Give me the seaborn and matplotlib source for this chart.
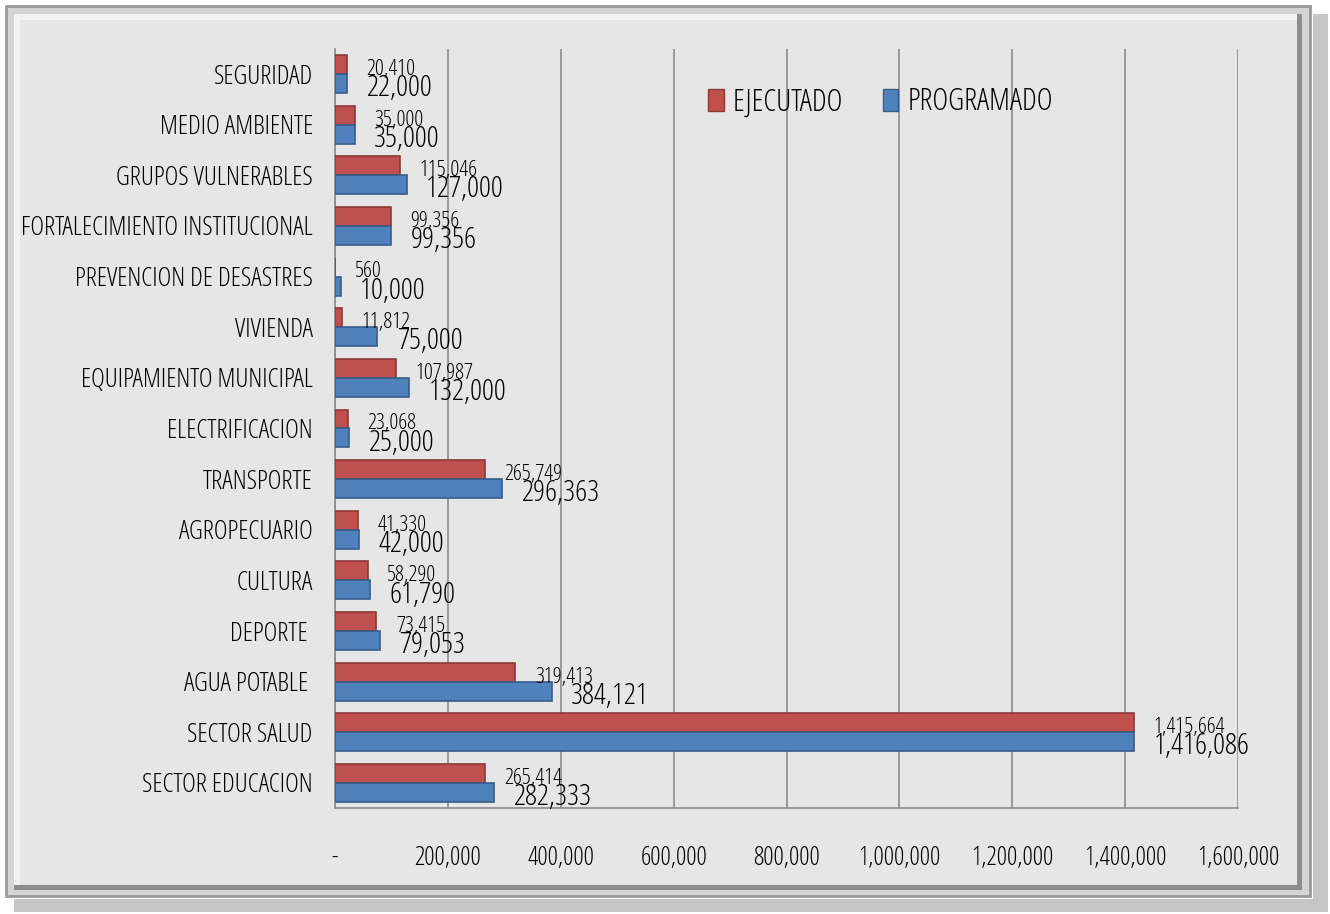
import numpy as np
import pandas as pd
import matplotlib
matplotlib.use('Agg')
import matplotlib.pyplot as plt
import matplotlib.patches as mpatches
from matplotlib.ticker import FuncFormatter
import seaborn as sns

# Data
sectores = ['SEGURIDAD', 'MEDIO AMBIENTE', 'GRUPOS VULNERABLES',
            'FORTALECIMIENTO INSTITUCIONAL', 'PREVENCION DE DESASTRES',
            'VIVIENDA', 'EQUIPAMIENTO MUNICIPAL', 'ELECTRIFICACION',
            'TRANSPORTE', 'AGROPECUARIO', 'CULTURA', 'DEPORTE ',
            'AGUA POTABLE ', 'SECTOR SALUD', 'SECTOR EDUCACION']
ejecutado = [20410, 35000, 115046, 99356, 560, 11812, 107987, 23068,
             265749, 41330, 58290, 73415, 319413, 1415664, 265414]
programado = [22000, 35000, 127000, 99356, 10000, 75000, 132000, 25000,
              296363, 42000, 61790, 79053, 384121, 1416086, 282333]
series = ['EJECUTADO', 'PROGRAMADO']
x_ticks = [0, 200000, 400000, 600000, 800000, 1000000, 1200000, 1400000, 1600000]

df = pd.DataFrame({
    'sector': sectores * 2,
    'valor': ejecutado + programado,
    'tipo': [series[0]] * len(sectores) + [series[1]] * len(sectores),
})

sns.set_style('white')
# condensed face, close to the squeezed Calibri of the original
plt.rcParams['font.family'] = ['Open Sans', 'DejaVu Sans']
plt.rcParams['font.stretch'] = 'condensed'
plt.rcParams['font.weight'] = 'medium'
plt.rcParams['text.color'] = 'black'
plt.rcParams['xtick.labelcolor'] = 'black'
plt.rcParams['ytick.labelcolor'] = 'black'

bg = '#e6e6e6'
red, blue = '#c0504d', '#4f81bd'
grid_c = '#8c8c8c'

fig = plt.figure(figsize=(13.3, 9.14), dpi=100)
fig.patch.set_facecolor('white')

# frame with shadow (pixel coords -> figure fraction)
W, H = 1330, 914
def frect(x0, y0, x1, y1, z, **kw):
    r = mpatches.Rectangle((x0 / W, 1 - y1 / H), (x1 - x0) / W, (y1 - y0) / H,
                           transform=fig.transFigure, zorder=z, **kw)
    fig.add_artist(r)

frect(14, 14, 1328, 912, -20, facecolor='#c6c6c6', edgecolor='none')
frect(4, 4, 1313, 899, -19, facecolor='white', edgecolor='none')
frect(6, 6, 1310, 896, -18, facecolor='#d4d4d4', edgecolor='#9a9a9a', lw=2)
frect(14, 14, 1302, 890, -17, facecolor='#8e8e8e', edgecolor='none')
frect(14, 14, 1297, 885, -16, facecolor='#f2f2f2', edgecolor='none')
frect(20, 20, 1297, 885, -15, facecolor=bg, edgecolor='none')

ax = fig.add_axes([335 / W, 1 - 808.3 / H, (1238 - 335) / W, (808.3 - 48.7) / H])
ax.set_facecolor(bg)

sns.barplot(data=df, x='valor', y='sector', hue='tipo', orient='h',
            palette=[red, blue], saturation=1, width=0.75, ax=ax, zorder=3)

edge = {0: '#8c3836', 1: '#385d8a'}
for i, cont in enumerate(ax.containers):
    for p in cont:
        p.set_edgecolor(edge[i])
        p.set_linewidth(1.2)

lab_red = ax.bar_label(ax.containers[0], labels=[f'{v:,}' for v in ejecutado],
                       padding=14, fontsize=16, color='black')
lab_blue = ax.bar_label(ax.containers[1], labels=[f'{v:,}' for v in programado],
                        padding=14, fontsize=21.5, color='black')
# labels sit a little below the bar centre in the original
for t in lab_red:
    t.xyann = (14, -3.5)
for t in lab_blue:
    t.xyann = (14, -3.5)

ax.set_xlim(0, 1600000)
ax.set_xticks(x_ticks)
ax.xaxis.set_major_formatter(FuncFormatter(lambda v, p: '-' if v == 0 else f'{v:,.0f}'))
ax.grid(axis='x', color=grid_c, lw=1.2, zorder=0)
ax.set_axisbelow(True)

for s in ['top', 'right']:
    ax.spines[s].set_visible(False)
for s in ['left', 'bottom']:
    ax.spines[s].set_color(grid_c)
    ax.spines[s].set_linewidth(1.2)

ax.tick_params(axis='x', length=5, width=1.2, color=grid_c, pad=22, labelsize=18.5)
ax.tick_params(axis='y', length=0, pad=16, labelsize=19)
ax.set_xlabel('')
ax.set_ylabel('')

handles = [mpatches.Patch(facecolor=red, edgecolor=edge[0]),
           mpatches.Patch(facecolor=blue, edgecolor=edge[1])]
ax.legend(handles, series, loc='center left', bbox_to_anchor=(0.512, 0.888),
          bbox_transform=fig.transFigure, ncol=2, frameon=False, fontsize=22,
          handlelength=0.5, handleheight=0.75, handletextpad=0.3, columnspacing=1.3)

plt.savefig('out.png', dpi=100, facecolor=fig.get_facecolor())
